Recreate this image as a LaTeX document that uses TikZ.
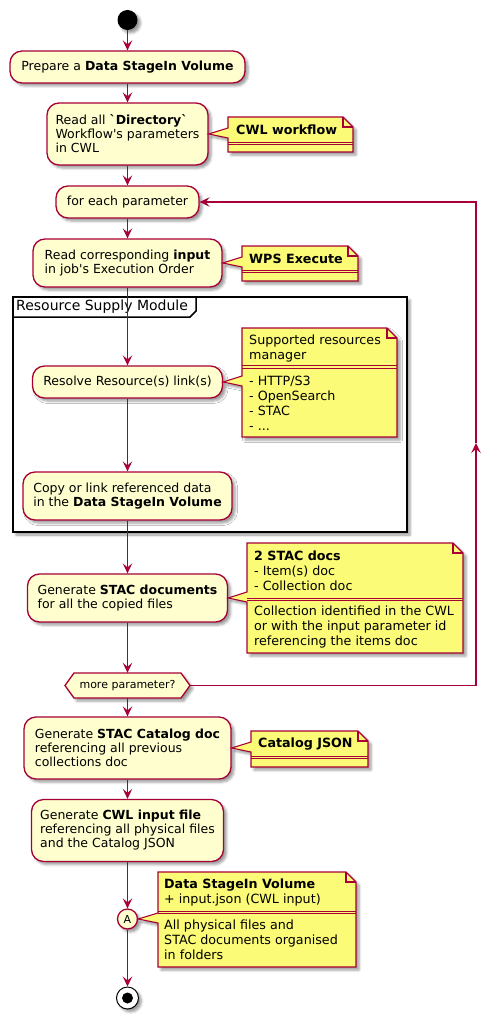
\documentclass[tikz,border=0pt]{standalone}
\usepackage{fontspec}
\setmainfont{DejaVu Sans}[Ligatures=TeXOff]
\usetikzlibrary{arrows.meta,shadows.blur}
\definecolor{actbg}{HTML}{FEFECE}
\definecolor{pred}{HTML}{A80036}
\definecolor{notebg}{HTML}{FBFB77}
\newcommand\drawnote[7]{%
  \draw[notest] (#1,#2) -- ({#3-10},#2) -- (#3,{#2+10}) -- (#3,#4) -- (#1,#4) -- (#1,{#7+4}) -- (#6.east) -- (#1,{#7-6}) -- cycle;
  \draw[notebd] ({#3-10},#2) -- ({#3-10},{#2+10}) -- (#3,{#2+10});
  \draw[sepbd] (#1,{#5-0.8}) -- (#3,{#5-0.8}) (#1,{#5+1.8}) -- (#3,{#5+1.8});
}
\begin{document}
\begin{tikzpicture}[x=1pt,y=-1pt,
  shd/.style={blur shadow={shadow xshift=3pt,shadow yshift=-3pt,shadow blur radius=2.5pt,shadow opacity=40}},
  act/.style={draw=pred,fill=actbg,line width=1.3pt,rounded corners=12pt,shd,align=left,inner sep=0pt,font=\fontsize{12.5}{14}\selectfont},
  notest/.style={draw=pred,fill=notebg,line width=1.1pt,shd},
  notebd/.style={draw=pred,line width=1.1pt},
  sepbd/.style={draw=pred,line width=0.9pt},
  ntxt/.style={anchor=west,align=left,inner sep=0pt,font=\fontsize{12.7}{15}\selectfont},
  arr/.style={draw=pred,line width=1.15pt,-{Stealth[length=10pt,width=9.5pt,inset=4pt]}},
  ln/.style={draw=pred,line width=1.15pt}]
\useasboundingbox (0,0) rectangle (500,1019);

% frame
\draw[line width=1.5pt,fill=white,shd] (13,297) rectangle (407,532);
\draw[line width=1.5pt] (13,317) -- (190,317) -- (196,311) -- (196,297);
\node[anchor=west,inner sep=0pt,font=\fontsize{14}{16}\selectfont] (frlab) at (16,307) {Resource Supply Module};

% activities
\node[circle,fill=black,minimum size=20pt,inner sep=0pt,shd] (start) at (127.5,20) {};
\node[act,minimum width=235pt,minimum height=32pt] (prep) at (127.5,67) {Prepare a \textbf{Data StageIn Volume}};
\node[act,minimum width=161pt,minimum height=62pt] (readall) at (127.5,134) {Read all \textbf{`Directory`}\\Workflow's parameters\\in CWL};
\node[act,minimum width=143pt,minimum height=32pt] (foreach) at (127.5,202) {for each parameter};
\node[act,minimum width=189pt,minimum height=48pt] (readin) at (127.5,263) {Read corresponding \textbf{input}\\in job's Execution Order};
\node[act,minimum width=190pt,minimum height=32pt] (resolve) at (127.5,382) {Resolve Resource(s) link(s)};
\node[act,minimum width=209pt,minimum height=48pt] (copy) at (127.5,496) {Copy or link referenced data\\in the \textbf{Data StageIn Volume}};
\node[act,minimum width=200pt,minimum height=48pt] (genstac) at (127.5,598) {Generate \textbf{STAC documents}\\for all the copied files};
\draw[draw=pred,fill=actbg,line width=1.3pt,shd] (65,685.5) -- (74,673) -- (181,673) -- (190,685.5) -- (181,698) -- (74,698) -- cycle;
\node[minimum width=125pt,minimum height=25pt,inner sep=0pt,font=\fontsize{11}{13}\selectfont] (more) at (127.5,685.5) {more parameter?};
\node[act,minimum width=207pt,minimum height=62pt] (catalog) at (127.5,748) {Generate \textbf{STAC Catalog doc}\\referencing all previous\\collections doc};
\node[act,minimum width=192pt,minimum height=62pt] (cwlin) at (127.5,830.5) {Generate \textbf{CWL input file}\\referencing all physical files\\and the Catalog JSON};
\node[circle,draw=pred,fill=actbg,line width=1.3pt,minimum size=20pt,inner sep=0pt,shd,font=\fontsize{11}{13}\selectfont] (conA) at (127.5,919) {A};
\node[circle,draw=black,fill=white,line width=1pt,minimum size=22pt,inner sep=0pt,shd] (stop) at (127.5,998) {};
\fill[black] (stop.center) circle (5.5pt);

% notes
\drawnote{228}{117}{353}{152}{143}{readall}{134}
\node[ntxt] (n1t) at (236,130) {\textbf{CWL workflow}};
\drawnote{242}{246}{358}{281}{271}{readin}{263}
\node[ntxt] (n2t) at (249,258.5) {\textbf{WPS Execute}};
\drawnote{242}{328}{397}{437}{366.5}{resolve}{382}
\node[ntxt] (n3a) at (249,348) {Supported resources\\manager};
\node[ntxt] (n3b) at (249,403.5) {- HTTP/S3\\- OpenSearch\\- STAC\\- ...};
\drawnote{247}{543}{463}{653}{599}{genstac}{598}
\node[ntxt] (n4a) at (254,571) {\textbf{2 STAC docs}\\- Item(s) doc\\- Collection doc};
\node[ntxt] (n4b) at (254,627) {Collection identified in the CWL\\or with the input parameter id\\referencing the items doc};
\drawnote{251}{731}{368}{767}{757}{catalog}{748}
\node[ntxt] (n5t) at (258,744) {\textbf{Catalog JSON}};
\drawnote{158}{872}{356}{967}{912}{conA}{919}
\node[ntxt] (n6a) at (164,892) {\textbf{Data StageIn Volume}\\+ input.json (CWL input)};
\node[ntxt] (n6b) at (164,940) {All physical files and\\STAC documents organised\\in folders};

% edges
\draw[arr] (start) -- (prep);
\draw[arr] (prep) -- (readall);
\draw[arr] (readall) -- (foreach);
\draw[arr] (foreach) -- (readin);
\draw[arr] (readin) -- (resolve);
\draw[arr] (resolve) -- (copy);
\draw[arr] (copy) -- (genstac);
\draw[arr] (genstac) -- (more);
\draw[arr] (more) -- (catalog);
\draw[arr] (catalog) -- (cwlin);
\draw[arr] (cwlin) -- (conA);
\draw[arr] (conA) -- (stop);
\coordinate (lr) at (476,685.5);
\coordinate (lm) at (476,443);
\coordinate (lt) at (476,202);
\draw[arr] (more.east) -- (lr) -- (lm);
\draw[arr] (lm) -- (lt) -- (foreach.east);
\end{tikzpicture}
\end{document}
